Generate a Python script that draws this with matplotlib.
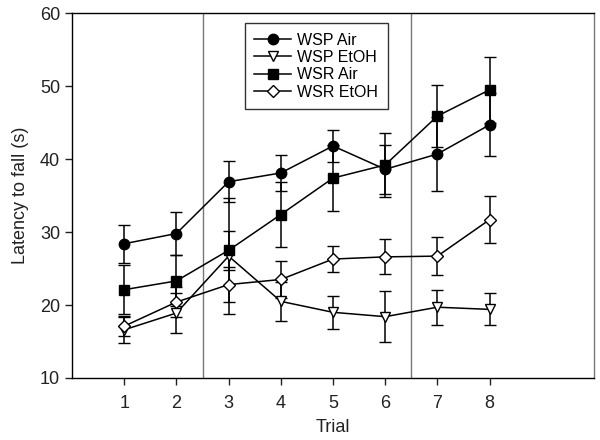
import matplotlib
matplotlib.use("Agg")
import matplotlib.pyplot as plt

plt.rcParams["font.family"] = ["Liberation Sans", "DejaVu Sans"]

trials = [1, 2, 3, 4, 5, 6, 7, 8]

# means and SEM
wsp_air = [28.4, 29.8, 36.9, 38.1, 41.8, 38.6, 40.7, 44.7]
wsp_air_err = [2.6, 3.0, 2.8, 2.5, 2.2, 3.4, 5.1, 4.3]
wsp_etoh = [16.6, 18.9, 26.7, 20.5, 19.0, 18.4, 19.7, 19.4]
wsp_etoh_err = [1.8, 2.7, 7.9, 2.7, 2.3, 3.5, 2.4, 2.2]
wsr_air = [22.1, 23.3, 27.5, 32.4, 37.4, 39.2, 45.9, 49.5]
wsr_air_err = [3.4, 3.5, 2.7, 4.4, 4.5, 4.4, 4.2, 4.5]
wsr_etoh = [17.1, 20.4, 22.8, 23.5, 26.3, 26.6, 26.7, 31.7]
wsr_etoh_err = [1.4, 2.1, 2.4, 2.5, 1.8, 2.4, 2.6, 3.2]

series = [
    ("WSP Air", wsp_air, wsp_air_err, "o", "black"),
    ("WSP EtOH", wsp_etoh, wsp_etoh_err, "v", "white"),
    ("WSR Air", wsr_air, wsr_air_err, "s", "black"),
    ("WSR EtOH", wsr_etoh, wsr_etoh_err, "D", "white"),
]

fig = plt.figure(figsize=(6, 4.4), dpi=100)
ax = fig.add_axes([0.12, 0.141, 0.87, 0.829])

ax.axvline(2.5, color="#777777", lw=1.0, zorder=1)
ax.axvline(6.5, color="#777777", lw=1.0, zorder=1)

for label, y, err, mk, fc in series:
    ms = 6 if mk == "D" else 7.5
    ax.errorbar(
        trials, y, yerr=err, color="black", lw=1.1, elinewidth=1.1,
        capsize=4, capthick=1.1, marker=mk, markersize=ms,
        markerfacecolor=fc, markeredgecolor="black", markeredgewidth=1.0,
        label=label, zorder=3,
    )

ax.set_xlim(0, 10)
ax.set_ylim(10, 60)
ax.set_xticks(trials)
ax.set_yticks([10, 20, 30, 40, 50, 60])
ax.tick_params(direction="out", length=5, width=1, labelsize=13, colors="#222222")
ax.tick_params(axis="x", pad=7)
ax.set_xlabel("Trial", fontsize=13, color="#222222", labelpad=5)
ax.set_ylabel("Latency to fall (s)", fontsize=13, color="#222222", labelpad=8)
for s in ax.spines.values():
    s.set_linewidth(1.0)
ax.spines["right"].set_color("#777777")

handles, labels = ax.get_legend_handles_labels()
leg = ax.legend(
    [h[0] for h in handles], labels, loc="upper left",
    bbox_to_anchor=(0.331, 0.973), borderaxespad=0, frameon=True,
    fancybox=False, edgecolor="black", fontsize=11.5, handlelength=2.3,
    labelspacing=0.15, borderpad=0.6, handletextpad=0.4,
)
leg.get_frame().set_linewidth(1.0)

fig.savefig("out.png", dpi=100)
